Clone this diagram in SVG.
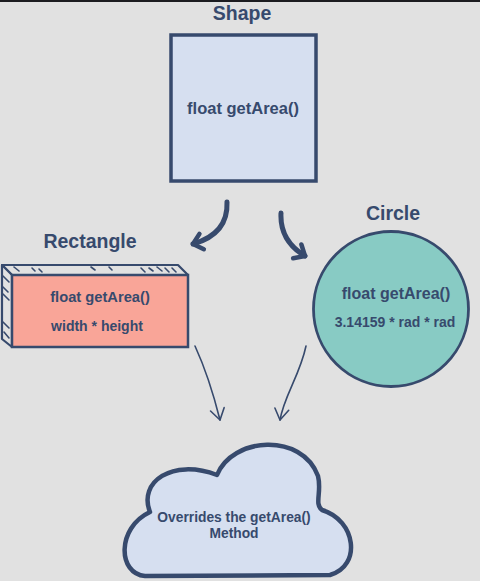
<svg xmlns="http://www.w3.org/2000/svg" width="480" height="581" viewBox="0 0 480 581">
<defs>
<style>
.bg{fill:#e1e1e1}
.ttl{font-family:"Liberation Sans",Arial,sans-serif;font-weight:bold;font-size:19.5px;fill:#374a6d;text-anchor:middle}
.lbl{font-family:"Liberation Sans",Arial,sans-serif;font-weight:bold;fill:#374a6d;text-anchor:middle}
.edge{stroke:#374a6d;fill:none;stroke-linecap:round;stroke-linejoin:round}
.hatch{stroke:#374a6d;stroke-width:1.6;stroke-linecap:round}
</style>
<marker id="thick" markerUnits="userSpaceOnUse" viewBox="-14 -12 18 24" refX="0" refY="0" markerWidth="18" markerHeight="24" orient="auto">
<path d="M -9 -8 L 0 0 L -9 8" fill="none" stroke="#374a6d" stroke-width="4.5" stroke-linecap="round" stroke-linejoin="round"/>
</marker>
<marker id="thin" markerUnits="userSpaceOnUse" viewBox="-14 -10 18 20" refX="0" refY="0" markerWidth="18" markerHeight="20" orient="auto">
<path d="M -11 -7 L 0 0 L -11 7" fill="none" stroke="#374a6d" stroke-width="1.6" stroke-linecap="round" stroke-linejoin="round"/>
</marker>
</defs>
<rect class="bg" x="0" y="0" width="480" height="581"/>
<rect x="0" y="0" width="480" height="2" fill="#1c1c20"/>

<g id="connectors">
<path class="edge" stroke-width="5" d="M 227 202 C 228 225 214 238 193 244" marker-end="url(#thick)"/>
<path class="edge" stroke-width="5" d="M 281 213 C 280 233 290 247 305 256" marker-end="url(#thick)"/>
<path class="edge" stroke-width="1.6" d="M 195 346 C 206 370 213 392 220 420" marker-end="url(#thin)"/>
<path class="edge" stroke-width="1.6" d="M 306 346 C 300 375 284 396 280 420" marker-end="url(#thin)"/>
</g>

<g id="shape">
<text class="ttl" x="242" y="20">Shape</text>
<rect x="171" y="35" width="145" height="146" fill="#d6dff0" stroke="#374a6d" stroke-width="3.5"/>
<text class="lbl" x="243" y="114" font-size="16.5">float getArea()</text>
</g>

<g id="rectangle">
<text class="ttl" x="90" y="248">Rectangle</text>
<path d="M 2 265 L 178 265 L 188 275 L 12 275 Z" fill="#e1e1e1" stroke="#374a6d" stroke-width="2.2" stroke-linejoin="round"/>
<path d="M 2 265 L 12 275 L 12 347 L 2 339 Z" fill="#e1e1e1" stroke="#374a6d" stroke-width="2.2" stroke-linejoin="round"/>
<rect x="12" y="275" width="176" height="72" fill="#f9a598" stroke="#374a6d" stroke-width="2.5"/>
<line class="hatch" x1="14" y1="267" x2="19" y2="271"/>
<line class="hatch" x1="32" y1="268" x2="35" y2="271"/>
<line class="hatch" x1="39" y1="269" x2="42" y2="272"/>
<line class="hatch" x1="91" y1="267" x2="95" y2="270"/>
<line class="hatch" x1="109" y1="267" x2="112" y2="270"/>
<line class="hatch" x1="141" y1="268" x2="145" y2="272"/>
<line class="hatch" x1="149" y1="268" x2="153" y2="271"/>
<line class="hatch" x1="157" y1="267" x2="162" y2="271"/>
<line class="hatch" x1="165" y1="268" x2="169" y2="272"/>
<line class="hatch" x1="172" y1="268" x2="176" y2="272"/>
<line class="hatch" x1="3" y1="276" x2="9" y2="282"/>
<line class="hatch" x1="3" y1="287" x2="8" y2="292"/>
<line class="hatch" x1="3" y1="294" x2="9" y2="300"/>
<line class="hatch" x1="3" y1="322" x2="9" y2="328"/>
<line class="hatch" x1="4" y1="332" x2="9" y2="338"/>
<text class="lbl" x="100" y="302" font-size="14.7">float getArea()</text>
<text class="lbl" x="97" y="331" font-size="14">width * height</text>
</g>

<g id="circle">
<text class="ttl" x="393" y="220">Circle</text>
<circle cx="391" cy="309" r="77.5" fill="#88cbc4" stroke="#374a6d" stroke-width="2.8"/>
<text class="lbl" x="396" y="299" font-size="16">float getArea()</text>
<text class="lbl" x="395" y="327" font-size="14">3.14159 * rad * rad</text>
</g>

<g id="cloud">
<path d="M 150 512 C 138 482 172 458 217 475 C 232 437 302 432 318 476 C 322 492 314 504 322 510 C 356 520 362 566 330 575 L 145 576 C 118 574 116 528 150 512 Z" fill="#d6dff0" stroke="#374a6d" stroke-width="4.5" stroke-linejoin="round"/>
<text class="lbl" x="234" y="522" font-size="13.8">Overrides the getArea()</text>
<text class="lbl" x="234" y="538" font-size="13.8">Method</text>
</g>
</svg>
